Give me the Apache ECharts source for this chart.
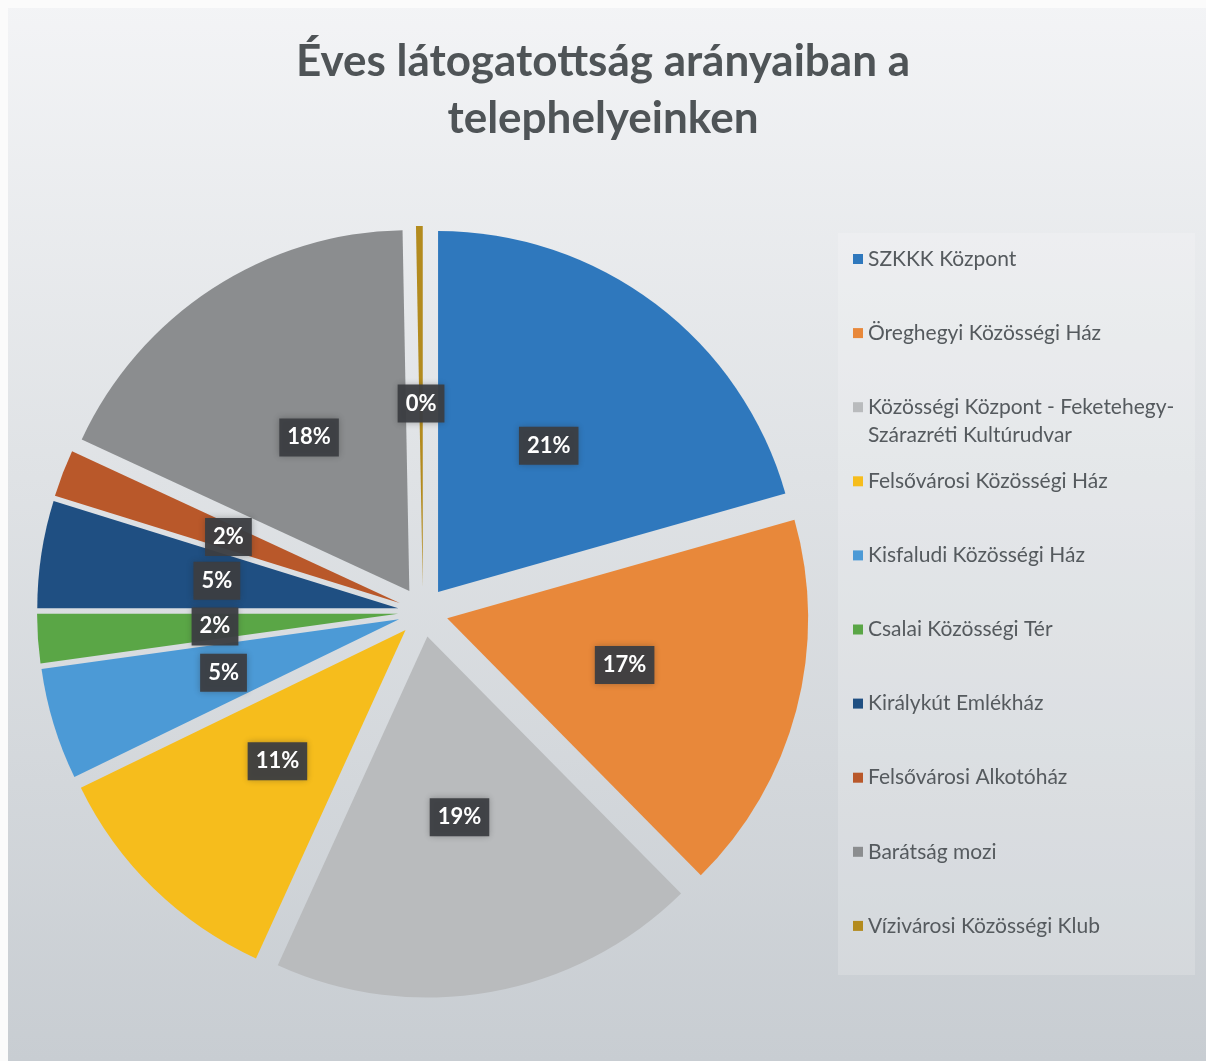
<!DOCTYPE html>
<html>
<head>
<meta charset="utf-8">
<script src="https://cdn.jsdelivr.net/npm/echarts@6/dist/echarts.min.js"></script>
<style>
  html, body { margin: 0; padding: 0; background: #ffffff; }
  #chart { width: 1206px; height: 1061px; }
</style>
</head>
<body>
<div id="chart"></div>
<script>
// telephelyek (categories) and their share of yearly visits, in percent
const sites = [
  "SZKKK Központ",
  "Öreghegyi Közösségi Ház",
  "Közösségi Központ - Feketehegy-Szárazréti Kultúrudvar",
  "Felsővárosi Közösségi Ház",
  "Kisfaludi Közösségi Ház",
  "Csalai Közösségi Tér",
  "Királykút Emlékház",
  "Felsővárosi Alkotóház",
  "Barátság mozi",
  "Vízivárosi Közösségi Klub"
];
const shares = [20.6, 17.0, 19.2, 11.0, 5.0, 2.2, 4.8, 2.1, 17.8, 0.3];
const colors = [
  "#2f78bd", "#e8883a", "#b9bbbd", "#f6bd1c", "#4c9ad6",
  "#5aa646", "#1f4f82", "#b9582a", "#8b8d8f", "#b38b1e"
];
const titleText = "Éves látogatottság arányaiban a\ntelephelyeinken";

const chart = echarts.init(document.getElementById("chart"));

// one legend per entry so the rows keep an even spacing, even with the wrapped name
const legends = sites.map(function (name, i) {
  const wrapped = name.indexOf("Feketehegy-") > -1;
  return {
    orient: "vertical",
    left: 848,
    top: 240 + i * 74.1 - (wrapped ? 28 : 0),
    data: [name],
    selectedMode: false,
    icon: "rect",
    itemWidth: 10,
    itemHeight: 10,
    itemGap: 6,
    formatter: function (n) {
      // keep the first line level with the icon, second line hangs below
      if (wrapped) {
        return " \nKözösségi Központ - Feketehegy-\nSzárazréti Kultúrudvar";
      }
      return n;
    },
    textStyle: {
      fontFamily: "Lato",
      fontSize: 21,
      color: "#555a5e",
      lineHeight: 28
    }
  };
});

const option = {
  backgroundColor: new echarts.graphic.LinearGradient(0, 0, 0, 1, [
    { offset: 0, color: "#f3f4f6" },
    { offset: 0.45, color: "#dfe2e5" },
    { offset: 1, color: "#c8cdd2" }
  ]),
  color: colors,
  title: {
    text: titleText,
    left: "center",
    top: 28,
    textStyle: {
      fontFamily: "Lato",
      fontWeight: "bold",
      fontSize: 44,
      lineHeight: 57,
      color: "#4f5457"
    }
  },
  graphic: [
    {
      type: "rect",
      shape: { x: 838, y: 233, width: 357, height: 742 },
      style: { fill: "rgba(255,255,255,0.18)" },
      silent: true
    },
    {
      // white scan margins
      type: "rect",
      shape: { x: 0, y: 0, width: 1206, height: 8 },
      style: { fill: "#fbfbfb" },
      silent: true
    },
    {
      type: "rect",
      shape: { x: 0, y: 0, width: 8, height: 1061 },
      style: { fill: "#fbfbfb" },
      silent: true
    }
  ],
  legend: legends,
  series: [
    {
      type: "pie",
      center: [423, 612],
      radius: 361,
      startAngle: 90,
      clockwise: true,
      selectedMode: "multiple",
      selectedOffset: 25,
      percentPrecision: 0,
      avoidLabelOverlap: false,
      labelLayout: { hideOverlap: false },
      silent: true,
      itemStyle: { borderWidth: 0 },
      label: {
        show: true,
        position: "inside",
        formatter: "{d}%",
        fontFamily: "Lato",
        fontWeight: "bold",
        fontSize: 22,
        color: "#ffffff",
        backgroundColor: "rgba(60,62,66,0.94)",
        padding: [9, 8, 7, 8],
        shadowBlur: 6,
        shadowColor: "rgba(40,40,40,0.35)"
      },
      labelLine: { show: false },
      data: sites.map(function (name, i) {
        return { name: name, value: shares[i], selected: true };
      })
    }
  ]
};

chart.setOption(option);
</script>
</body>
</html>
